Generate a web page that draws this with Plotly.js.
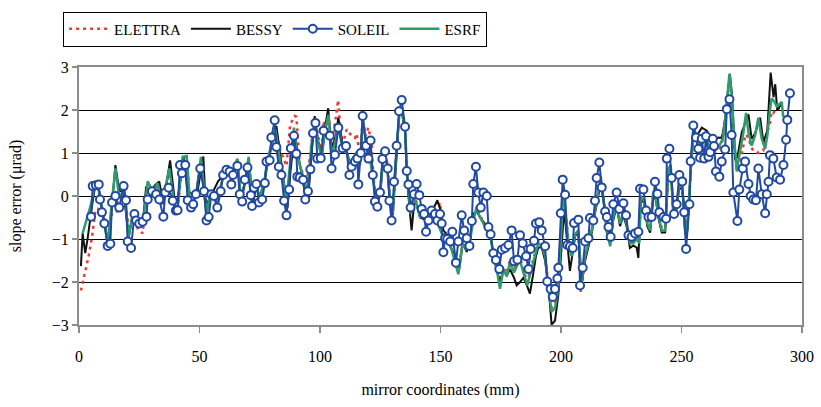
<!DOCTYPE html>
<html><head><meta charset="utf-8">
<script src="https://cdn.plot.ly/plotly-3.0.1.min.js"></script>
<style>html,body{margin:0;padding:0;background:#fff}#chart{width:821px;height:407px}</style>
</head><body><div id="chart"></div>
<script>
const soleilX=[5.0,5.7,7.0,8.2,8.7,9.5,10.5,11.9,13.0,13.7,15.1,16.7,18.5,19.5,20.2,21.6,23.0,23.7,25.0,26.4,28.0,28.5,30.3,32.0,33.3,35.0,35.8,37.2,38.9,40.2,40.9,41.9,42.7,44.1,45.1,46.5,47.4,48.5,50.3,51.9,52.9,53.8,54.9,56.0,57.4,58.8,59.8,61.2,62.5,63.2,63.9,65.7,66.7,67.7,68.8,69.9,71.3,71.8,72.6,73.6,74.7,76.0,77.1,77.8,79.1,79.8,81.2,81.9,82.9,84.0,85.1,86.1,87.2,87.9,89.2,90.2,90.6,91.6,93.0,93.9,95.0,96.0,97.1,98.1,98.9,100.3,101.5,104.1,104.8,106.2,107.6,109.4,110.8,112.2,113.1,114.5,115.5,115.9,116.9,117.7,119.1,120.1,121.0,121.9,122.8,123.8,124.9,125.9,127.0,128.1,128.8,129.7,130.7,131.8,132.8,133.9,135.3,136.0,136.7,137.6,139.0,140.1,141.2,142.2,143.2,144.0,145.0,146.3,147.7,148.7,149.8,150.5,151.2,151.9,152.8,154.0,154.9,156.4,157.4,158.8,159.8,160.9,162.0,163.0,163.6,164.7,165.7,166.7,167.8,169.2,169.9,170.8,171.9,173.0,174.4,175.4,176.8,178.2,179.5,180.5,181.9,183.0,184.1,185.5,186.5,187.4,188.8,189.6,191.0,192.0,193.4,194.3,195.7,196.6,197.5,198.5,198.9,199.9,200.7,201.7,202.6,203.7,204.9,205.4,207.2,207.9,209.0,210.0,211.4,212.0,213.4,214.1,214.8,215.9,216.9,218.3,219.0,219.7,220.6,221.7,223.1,224.2,225.9,227.0,228.0,229.3,230.7,232.1,232.8,234.2,235.3,236.3,237.6,239.0,240.0,240.8,242.5,243.6,243.9,245.0,245.9,246.9,248.0,249.1,250.3,251.1,251.9,253.3,253.8,254.9,256.0,257.0,257.7,258.4,259.4,260.2,261.2,261.9,263.0,263.5,264.3,265.7,266.7,268.1,268.8,269.9,270.8,271.5,273.2,274.0,275.4,276.4,277.8,278.7,279.8,280.9,281.9,283.3,284.7,285.4,286.1,286.7,288.1,289.5,290.9,292.3,293.4,293.9,295.0];
const soleilY=[-0.48,0.23,0.25,0.27,-0.08,-0.38,-0.64,-1.16,-1.11,-0.15,0.0,-0.27,0.23,-0.1,-1.06,-1.21,-0.42,-0.57,-0.64,-0.6,-0.48,-0.08,0.11,0.04,-0.08,-0.48,0.08,0.19,-0.11,-0.34,-0.33,0.72,0.53,0.72,-0.1,-0.27,-0.19,0.04,0.64,0.11,-0.57,-0.49,0.04,0.0,-0.27,0.11,0.49,0.61,0.57,0.27,0.49,0.7,0.04,-0.13,0.38,0.66,0.02,-0.23,0.19,0.28,-0.15,-0.08,0.3,0.8,0.83,1.36,1.76,1.14,0.68,0.49,-0.11,-0.45,0.15,1.11,1.4,0.98,0.45,0.43,0.38,-0.08,0.11,0.62,1.46,1.7,0.87,0.88,1.52,1.4,0.64,0.96,1.59,1.11,1.16,0.49,0.68,0.8,0.87,0.27,1.0,1.86,1.17,0.87,1.29,0.49,-0.13,-0.25,0.08,0.86,1.04,0.64,-0.11,-0.57,0.33,1.17,1.97,2.23,1.61,0.58,0.27,-0.27,0.04,0.28,0.02,-0.3,-0.42,-0.83,-0.57,-0.34,-0.42,-0.57,-0.42,-0.64,-1.31,-0.98,-1.0,-1.06,-0.83,-1.55,-1.06,-0.45,-0.8,-0.98,-1.16,-0.58,0.28,0.68,0.08,-0.27,0.08,0.0,-0.72,-0.89,-1.33,-1.49,-1.7,-1.25,-1.21,-1.14,-0.8,-1.52,-1.48,-0.91,-1.1,-1.4,-1.7,-1.23,-1.04,-0.64,-0.61,-0.8,-1.17,-1.99,-2.16,-2.35,-2.16,-1.92,-1.67,-0.4,0.38,0.03,-1.14,-1.17,-1.21,-0.63,-0.55,-2.08,-1.67,-1.06,-0.98,-0.51,-0.57,-0.11,0.42,0.78,0.2,-0.36,-0.49,-0.72,-0.95,-0.19,0.08,-0.3,-0.17,-0.45,-0.91,-0.95,-0.87,-0.83,0.17,0.15,-0.34,-0.49,-0.49,0.33,0.05,-0.38,-0.49,-0.53,0.87,1.1,0.42,-0.42,-0.19,0.49,0.34,-0.38,-1.23,-0.19,0.81,1.64,1.36,1.1,0.89,1.33,0.87,1.39,0.91,1.02,1.33,1.16,0.57,0.45,0.8,1.08,2.02,2.25,1.42,0.08,-0.58,0.15,0.64,0.8,0.28,0.0,-0.08,-0.1,0.64,0.04,-0.4,0.04,0.33,0.95,0.87,0.43,0.38,0.72,1.31,1.77,2.39];

const esrfX=[1.5,5,6.4,7.7,9.8,11.9,13.3,15.1,16.7,18.8,20.6,22.3,24.3,26.4,28.5,30.6,32.6,34.4,36.1,37.5,39.6,40.9,43,44.7,46.1,47.4,48.8,50.6,52.9,54.2,55.6,57,58.4,60.5,62.5,64.3,65.7,67.1,68.8,70.4,71.8,73.2,75,77.1,78.4,80.1,81.5,83.3,85.1,86.1,87.4,89.2,90.6,92,93.7,95,96.4,97.8,99.2,100.7,102.1,103.5,104.8,106.6,107.6,109.4,111.1,112.4,113.8,115.2,116.6,117.7,119.4,120.7,122.1,123.2,124.9,126.3,127.7,129,130.2,131.5,132.9,133.9,135.3,136.2,137.6,139,140.1,141.5,143.6,144.5,146.3,148.4,150.5,151.2,152.8,154.6,157.4,159.2,160.9,162.2,163.6,165,166.4,167.8,169.2,170.6,171.9,173.3,174.7,176.1,177.5,178.8,180.5,181.9,183,184.4,186,187.4,189.2,190.6,192,193.4,194.8,196.1,197.5,198.9,199.9,201,201.8,203.1,204.4,205.8,207.2,208.6,210,211.4,212.8,214.1,215.5,216.5,217.6,219,220.4,221.7,223.1,224.5,225.9,227.2,228.6,230,231.4,232.5,233.1,234.5,235.8,237,238.3,239.4,240.4,241.8,243.2,244.6,245.5,246.6,247.8,249.1,250.2,250.8,251.5,252.2,253.3,254.2,255.2,256.4,257.7,259,260.5,261.8,263.2,264.5,265.7,267.1,268.1,269.9,270.8,271.8,272.9,274,275.7,276.8,277.8,279.1,280.5,281.9,283.3,284.7,285.6,286.7,287.4,288.5,289.5,290.9,291.6,292.2];
const esrfY=[-0.87,-0.19,0.23,0.27,-0.34,-1.1,-0.34,0.64,-0.04,0.15,-0.95,-0.42,-0.64,-0.72,0.34,0.11,0.3,-0.19,0.27,0.64,-0.19,-0.3,0.91,0.93,-0.19,-0.11,0.11,0.91,-0.42,-0.04,0.11,-0.19,0.15,0.57,0.53,0.64,0.87,-0.04,0.27,0.91,-0.11,0.27,-0.04,0.42,0.87,1.25,1.55,0.87,0.19,-0.11,0.64,1.59,0.95,0.64,0.27,0.19,1.17,1.74,1.25,0.87,1.55,1.89,0.95,1.33,1.67,1.1,1.02,0.72,0.87,1.02,0.72,1.78,1.17,0.87,0.42,-0.11,0.04,0.95,0.8,-0.04,-0.42,0.87,1.93,2.0,1.55,0.42,-0.42,-0.04,-0.19,-0.49,-0.49,-0.64,-0.49,-0.57,-0.87,-0.95,-1.0,-1.25,-1.82,-1.1,-1.25,-1.05,-0.57,-0.27,-0.49,-0.64,-0.8,-0.85,-1.4,-1.7,-2.16,-1.7,-1.86,-1.55,-1.78,-1.6,-1.5,-1.78,-2.08,-1.78,-1.4,-1.1,-1.15,-1.4,-2.16,-2.69,-2.61,-2.16,-1.1,0.11,-0.3,-1.1,-1.4,-0.9,-0.8,-2.0,-1.4,-1.1,-0.8,-0.34,0.11,0.42,-0.05,-0.8,-1.17,-0.49,-0.2,-0.64,-0.4,-0.64,-1.1,-1.1,-1.0,-1.1,-0.04,-0.1,-0.64,-0.8,0.11,-0.05,-0.45,-0.8,-0.8,0.64,0.72,-0.4,-0.3,0.27,0.2,-0.11,-0.8,-0.87,0.11,0.95,1.55,1.35,1.17,1.3,1.33,1.1,1.02,1.1,1.17,1.33,1.78,2.84,2.39,1.4,0.57,0.95,1.48,1.93,1.48,1.17,1.4,1.82,1.33,1.1,1.4,2.0,2.27,2.2,2.08,2.15,2.19,1.84];

const bessyX=[0.8,1.5,2.6,3.6,5.4,6.8,8.4,10.5,12.3,13.7,15.1,16.7,18.5,20.6,22.5,24.3,26.4,27.8,29.9,31.5,33.3,35,37.8,39.6,40.9,43.3,45.1,47.2,49.2,51.6,52.4,53.5,55.6,57.7,59.4,61.5,63.2,64.5,65.8,67.1,68.8,70.4,72.2,73.5,75.2,77.1,78.5,80.1,81.9,83.5,84.8,86.5,87.8,89.5,90.8,92,93.7,95,96.5,97.8,99.2,100.7,102.1,103.4,104.8,106.6,107.6,109.4,111.1,112.4,113.8,115.2,116.6,117.7,119.4,120.7,122.1,123.2,124.9,126.3,127.7,129,130.2,131.5,132.9,133.9,135.3,136.2,138,139.2,140.1,141.5,143.6,144.5,146.3,148.7,150.1,151.2,152.8,154,155.8,157.8,159.2,160.9,162.2,163.6,165,166.4,167.8,169.2,170.6,172.6,174.7,176.1,177.5,178.8,180.5,181.6,183,184.4,186,187.1,188.5,189.6,190.6,192,193.4,194.8,196.1,197.5,198.9,200.3,201.3,203.7,205,206,207.2,208.6,210,211.4,212.8,214.1,215.5,216.5,217.6,219,220.4,221.7,223.1,224.5,225.9,227.2,228.6,230,231.4,232.1,233.1,234.5,235.8,237,238.3,239.4,240.4,241.8,243.2,244.6,245.5,246.6,247.8,249.1,250.2,250.8,251.5,252.2,253.3,254.2,255.2,256.4,258.4,260.5,262.5,263.8,265.3,266.5,267.1,268.1,270.1,271,272.2,273.2,275,276.3,277.8,279.1,280.5,282.6,284,285.6,287,288.2,288.9,289.7,290.9,291.6];
const bessyY=[-1.63,-0.87,-1.33,-0.98,-0.23,0.27,0.11,-0.64,-1.14,-0.11,0.72,0.11,0.11,-0.98,-0.34,-0.61,-0.68,0.19,0.11,0.25,0.34,-0.19,0.83,-0.04,-0.11,0.93,0.11,0.04,0.11,0.92,-0.04,-0.19,0.1,0.34,0.45,0.5,0.45,0.6,0.8,-0.05,0.3,0.85,-0.19,0.25,-0.05,0.35,0.85,1.2,1.63,0.95,0.4,-0.27,0.6,1.44,1.0,0.6,0.1,-0.11,1.0,1.86,1.3,0.9,1.6,2.04,1.1,1.4,1.82,1.2,1.05,0.75,0.9,1.0,0.75,1.7,1.2,0.9,0.4,-0.15,0.0,0.9,0.8,-0.1,-0.45,0.8,1.9,1.95,1.5,0.3,-0.8,-0.1,-0.2,-0.5,-0.55,-0.6,-0.4,-0.1,-0.35,-0.8,-0.9,-1.17,-1.35,-1.7,-1.1,-1.3,-1.0,-0.42,-0.35,-0.5,-0.6,-0.7,-0.9,-1.55,-2.0,-1.75,-1.85,-1.7,-1.9,-2.08,-2.0,-1.9,-2.1,-2.27,-1.8,-1.4,-1.2,-1.2,-1.5,-2.1,-2.99,-2.9,-2.3,-1.02,-0.3,-1.74,-1.3,-0.9,-0.9,-2.05,-1.5,-1.2,-0.85,-0.4,0.05,0.3,-0.1,-0.85,-1.1,-0.55,-0.25,-0.7,-0.45,-0.7,-1.21,-1.15,-1.2,-1.44,-0.1,-0.15,-0.7,-0.85,0.05,-0.1,-0.5,-0.85,-0.85,0.6,0.7,-0.45,-0.35,0.2,0.15,-0.15,-0.85,-0.9,0.1,0.95,1.55,1.4,1.59,1.52,1.33,1.3,1.36,1.35,1.45,1.8,2.84,2.3,0.87,0.9,1.48,1.7,1.9,1.33,1.45,1.82,1.25,1.52,2.87,2.3,2.6,2.0,2.1,2.15];

const elettraX=[0.8,2.5,4,5.4,6.8,7.7,9.8,11.9,13.3,14.7,16.7,18.8,20.9,22.3,24.3,26.4,28.5,30.6,32.6,34.4,36.1,37.5,39.6,40.9,43.3,44.7,46.1,47.4,48.8,50.6,52.9,54.2,55.6,57,58.4,60.5,62.5,64.3,65.7,67.1,68.8,70.4,71.8,73.2,75,77.1,78.4,80.1,81.5,83.3,84.8,86.1,87.6,89.5,90.2,91.6,93,94.5,96.4,97.8,99.2,100.7,101.3,102.5,103.5,104.8,106.6,107.5,108.5,109.4,111.1,113.1,114.5,115.2,116.6,117.7,119,120,121.4,122.1,123.2,124.9,126.3,127.7,129,130.2,131.5,132.9,133.9,135.3,136.2,137.6,139,140.1,141.5,143.6,144.5,146.3,148.4,149.8,151.2,152.8,154.6,157.4,159.2,160.9,162.2,163.6,165,166.4,167.8,169.2,170.6,171.9,173.3,174.7,176.1,177.5,178.8,180.5,181.9,183,184.4,186,187.4,189.2,190.6,192,193.4,194.8,196.1,197.5,198.9,199.9,201,201.8,203.1,204.4,205.8,207.2,208.2,210,211.4,212.8,214.1,215.5,216.5,217.6,219,220.4,221.7,223.1,224.5,225.9,227.2,228.6,230,231.4,232.5,233.1,234.5,235.8,237,238.3,239.4,240.4,241.8,243.2,244.6,245.5,246.6,247.8,249.1,250.2,250.8,252.3,253.3,254.2,255.2,256.4,257.7,259,260.5,261.8,263.2,264.5,265.7,267.1,268.1,269.9,270.8,271.8,272.9,274.2,276.4,277,279.7,281.9,283.9,285.3,286.7,287.4,288.1,289.5,290.9];
const elettraY=[-2.2,-1.78,-1.4,-0.95,-0.34,-0.3,-0.4,-1.0,-0.45,-0.38,-0.34,0.0,-0.8,-0.5,-0.75,-0.87,0.2,0.05,0.25,-0.2,0.2,0.6,-0.2,-0.3,0.93,0.9,-0.2,-0.1,0.1,0.85,-0.45,-0.05,0.1,-0.2,0.15,0.55,0.5,0.6,0.85,-0.05,0.25,0.9,-0.15,0.25,-0.05,0.4,0.85,1.25,1.6,1.1,0.9,0.7,1.66,1.86,1.84,0.72,0.5,0.3,1.2,1.8,1.4,1.0,1.74,1.6,1.85,1.2,1.84,2.23,1.5,1.2,1.55,1.4,1.35,1.45,0.9,1.8,1.4,1.59,1.25,0.5,-0.05,0.1,0.95,0.85,0.0,-0.35,0.9,1.9,2.0,1.55,0.45,-0.35,0.0,-0.15,-0.45,-0.45,-0.6,-0.45,-0.4,-0.15,-0.9,-0.95,-1.2,-1.75,-1.05,-1.2,-1.0,-0.5,-0.25,-0.45,-0.6,-0.75,-0.85,-1.35,-1.6,-2.05,-1.65,-1.8,-1.5,-1.7,-1.55,-1.45,-1.7,-2.0,-1.7,-1.35,-1.05,-1.1,-1.35,-2.1,-2.6,-2.5,-2.1,-1.05,0.1,-0.3,-1.05,-1.35,-0.9,-0.8,-2.23,-1.45,-1.1,-0.8,-0.3,0.1,0.45,0.0,-0.75,-1.1,-0.45,-0.2,-0.6,-0.35,-0.6,-1.05,-1.05,-0.95,-1.05,0.0,-0.1,-0.6,-0.8,0.1,-0.05,-0.4,-0.75,-0.75,0.6,0.7,-0.4,-0.3,0.25,0.2,-0.15,-0.84,0.0,0.9,1.5,1.3,1.15,1.25,1.3,1.05,1.0,1.05,1.1,1.3,1.75,2.75,2.3,1.3,0.6,0.72,1.4,1.43,1.05,1.0,1.05,1.43,1.7,1.96,1.93,2.05,2.0];

const xTicks=[0,50,100,150,200,250,300];
const yTicks=[-3,-2,-1,0,1,2,3];

const serif='"Liberation Serif","Times New Roman",serif';
const traces=[
 {name:'ELETTRA',x:elettraX,y:elettraY,mode:'lines',line:{color:'#ee3a36',width:2.5,dash:'3px,4px'},legendrank:1},
 {name:'BESSY',x:bessyX,y:bessyY,mode:'lines',line:{color:'#111111',width:2},legendrank:2},
 {name:'ESRF',x:esrfX,y:esrfY,mode:'lines',line:{color:'#2e9b6c',width:2.5},legendrank:4},
 {name:'SOLEIL',x:soleilX,y:soleilY,mode:'lines+markers',line:{color:'#2149a3',width:2},
  marker:{symbol:'circle',size:8,color:'#ffffff',line:{color:'#2149a3',width:2}},legendrank:3}
];
const layout={
 width:821,height:407,margin:{l:79,r:19,t:61,b:82},
 paper_bgcolor:'#fff',plot_bgcolor:'#fff',
 font:{family:serif,size:15,color:'#000'},
 showlegend:true,
 legend:{orientation:'h',x:-0.022,xanchor:'left',y:1.215,yanchor:'top',
   bgcolor:'#fff',bordercolor:'#000',borderwidth:1,font:{family:serif,size:15,color:'#000'},
   itemwidth:40,traceorder:'normal'},
 xaxis:{range:[0,300],tickvals:xTicks,ticktext:xTicks.map(String),showgrid:false,zeroline:false,
   showline:true,linecolor:'#8c8c8c',linewidth:2,mirror:true,ticks:'outside',ticklen:6,tickcolor:'#8c8c8c',tickwidth:1.5,
   ticklabelstandoff:10,tickfont:{family:serif,size:16},
   title:{text:'mirror coordinates (mm)',font:{family:serif,size:16},standoff:20}},
 yaxis:{range:[-3,3],tickvals:yTicks,ticktext:yTicks.map(v=>v<0?'\u2212'+Math.abs(v):String(v)),showgrid:true,gridcolor:'#000',gridwidth:1,zeroline:false,
   showline:true,linecolor:'#8c8c8c',linewidth:2,mirror:true,ticks:'outside',ticklen:5,tickcolor:'#8c8c8c',tickwidth:1.5,
   tickfont:{family:serif,size:16},
   title:{text:'slope error (\u03bcrad)',font:{family:serif,size:16},standoff:26}}
};
Plotly.newPlot('chart',traces,layout,{displayModeBar:false,staticPlot:true});
</script></body></html>
